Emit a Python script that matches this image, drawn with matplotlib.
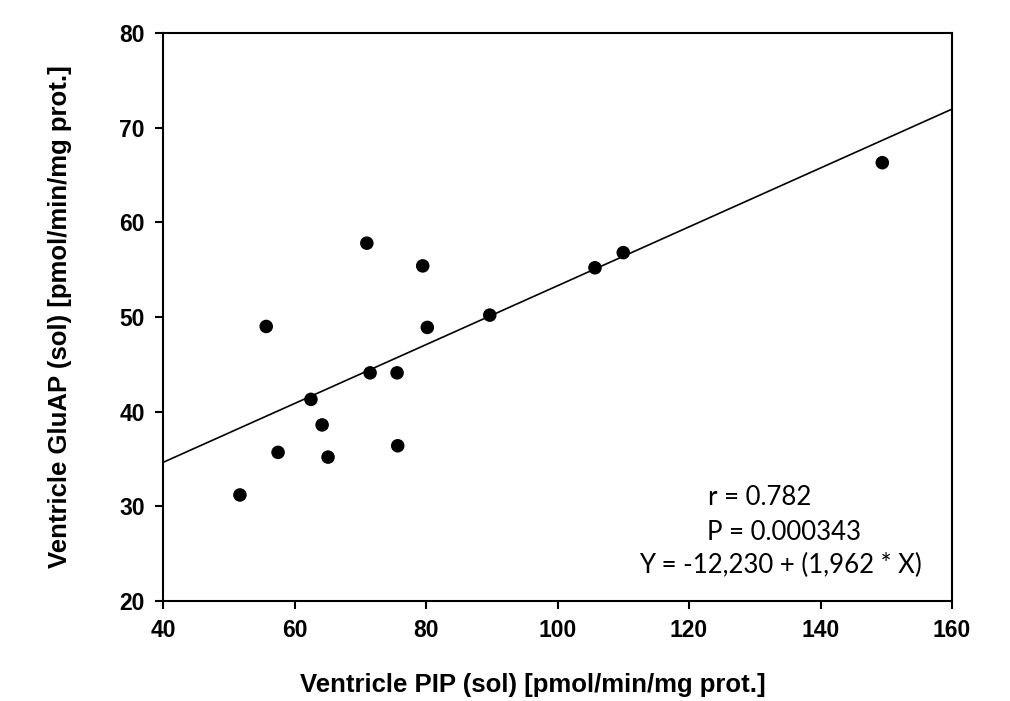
import matplotlib
matplotlib.use("Agg")
import matplotlib.pyplot as plt
import numpy as np

pip_x = [51.7, 55.7, 57.5, 62.5, 64.2, 65.1, 71.0, 71.5, 75.6, 75.7, 79.5, 80.2, 89.7, 105.7, 110.0, 149.4]
gluap_y = [31.2, 49.0, 35.7, 41.3, 38.6, 35.2, 57.8, 44.1, 44.1, 36.4, 55.4, 48.9, 50.2, 55.2, 56.8, 66.3]
line_intercept = 22.2
line_slope = 0.311
x_ticks = [40, 60, 80, 100, 120, 140, 160]
y_ticks = [20, 30, 40, 50, 60, 70, 80]
stats_lines = ["r = 0.782", "P = 0.000343", "Y = -12,230 + (1,962 * X)"]

W, H = 1010, 701
plt.rcParams['font.family'] = ['Liberation Sans', 'DejaVu Sans']
fig = plt.figure(figsize=(W / 100, H / 100), dpi=100)
ax = fig.add_axes([163 / W, 1 - 601 / H, (952 - 163) / W, (601 - 33) / H])

lx = np.array([x_ticks[0], x_ticks[-1]])
ax.plot(lx, line_intercept + line_slope * lx, color='black', lw=1.2, zorder=2)
ax.scatter(pip_x, gluap_y, s=95, color='black', zorder=3, edgecolors='none')

ax.set_xlim(x_ticks[0], x_ticks[-1])
ax.set_ylim(y_ticks[0], y_ticks[-1])
ax.set_xticks(x_ticks)
ax.set_yticks(y_ticks)
for sp in ax.spines.values():
    sp.set_linewidth(1.5)
ax.tick_params(direction='out', length=6, width=1.5, labelsize=16.5, pad=7)
for lab in ax.get_xticklabels() + ax.get_yticklabels():
    lab.set_fontweight('bold')

ax.set_xlabel("Ventricle PIP (sol) [pmol/min/mg prot.]", fontsize=18.5, fontweight='bold', labelpad=22)
ax.xaxis.label.set_x((533 - 163) / (952 - 163))
ax.set_ylabel("Ventricle GluAP (sol) [pmol/min/mg prot.]", fontsize=18.5, fontweight='bold', labelpad=34)

stat_pos = [(708, 505), (707, 540), (639, 573)]
for txt, (px, py) in zip(stats_lines, stat_pos):
    fig.text(px / W, 1 - py / H, txt, ha='left', va='baseline',
             fontsize=18.5, family=['Lato', 'DejaVu Sans'])

fig.savefig("out.png", dpi=100)
